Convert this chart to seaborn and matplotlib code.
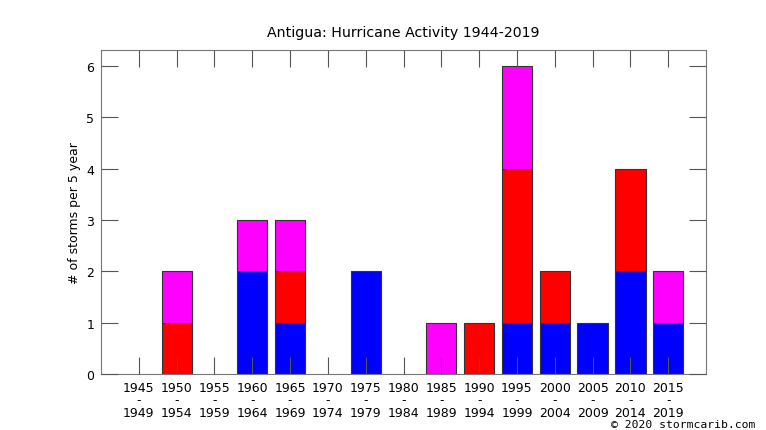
import numpy as np
import pandas as pd
import matplotlib
matplotlib.use('Agg')
import matplotlib.pyplot as plt
import seaborn as sns

# 5-year periods and stacked storm counts
periods = ['1945', '1950', '1955', '1960', '1965', '1970', '1975', '1980',
           '1985', '1990', '1995', '2000', '2005', '2010', '2015']
period_ends = ['1949', '1954', '1959', '1964', '1969', '1974', '1979', '1984',
               '1989', '1994', '1999', '2004', '2009', '2014', '2019']
blue_vals = [0, 0, 0, 2, 1, 0, 2, 0, 0, 0, 1, 1, 1, 2, 1]
red_vals = [0, 1, 0, 0, 1, 0, 0, 0, 0, 1, 3, 1, 0, 2, 0]
magenta_vals = [0, 1, 0, 1, 1, 0, 0, 0, 1, 0, 2, 0, 0, 0, 1]

sns.set_theme(style='white')
plt.rcParams['font.family'] = ['DejaVu Sans']
plt.rcParams['text.color'] = 'black'
plt.rcParams['axes.labelcolor'] = 'black'
plt.rcParams['xtick.labelcolor'] = 'black'
plt.rcParams['ytick.labelcolor'] = 'black'

df = pd.DataFrame({'period': periods, 'blue': blue_vals, 'red': red_vals, 'magenta': magenta_vals})
df['red_base'] = df['blue']
df['mag_base'] = df['blue'] + df['red']

fig = plt.figure(figsize=(7.66, 4.31), dpi=100)
ax = fig.add_axes([0.1319, 0.1299, 0.7898, 0.7518])

layers = [('blue', None, '#0000ff'), ('red', 'red_base', '#ff0000'), ('magenta', 'mag_base', '#ff00ff')]
for col, base, colr in layers:
    kw = {}
    if base is not None:
        kw['bottom'] = df[base].values
    sns.barplot(data=df, x='period', y=col, color=colr, saturation=1, width=0.8,
                edgecolor='#333333', linewidth=0.8, ax=ax, errorbar=None, **kw)

# hide zero-height bars so no stray edge lines
for p in ax.patches:
    if p.get_height() == 0:
        p.set_visible(False)

ax.set_xlim(-1, 15)
ax.set_ylim(0, 6.31)
ax.set_xticks(range(len(periods)))
ax.set_xticklabels([f'{a}\n-\n{b}' for a, b in zip(periods, period_ends)], fontsize=9, linespacing=0.95)
ax.set_yticks(range(7))
ax.set_yticklabels([str(i) for i in range(7)], fontsize=9)
ax.tick_params(direction='in', length=12, width=0.8, color='#555555',
               top=True, right=True, bottom=True, left=True, pad=5)
ax.set_axisbelow(False)
for s in ax.spines.values():
    s.set_color('#777777')
    s.set_linewidth(0.8)

ax.set_xlabel('')
ax.set_ylabel('# of storms per 5 year', fontsize=9, labelpad=4)
ax.set_title('Antigua: Hurricane Activity 1944-2019', fontsize=10.2, pad=10)

fig.text(0.986, 0.008, '\u00a9 2020 stormcarib.com', ha='right', va='baseline',
         family='DejaVu Sans Mono', fontsize=8.2)

fig.savefig('out.png', dpi=100)
